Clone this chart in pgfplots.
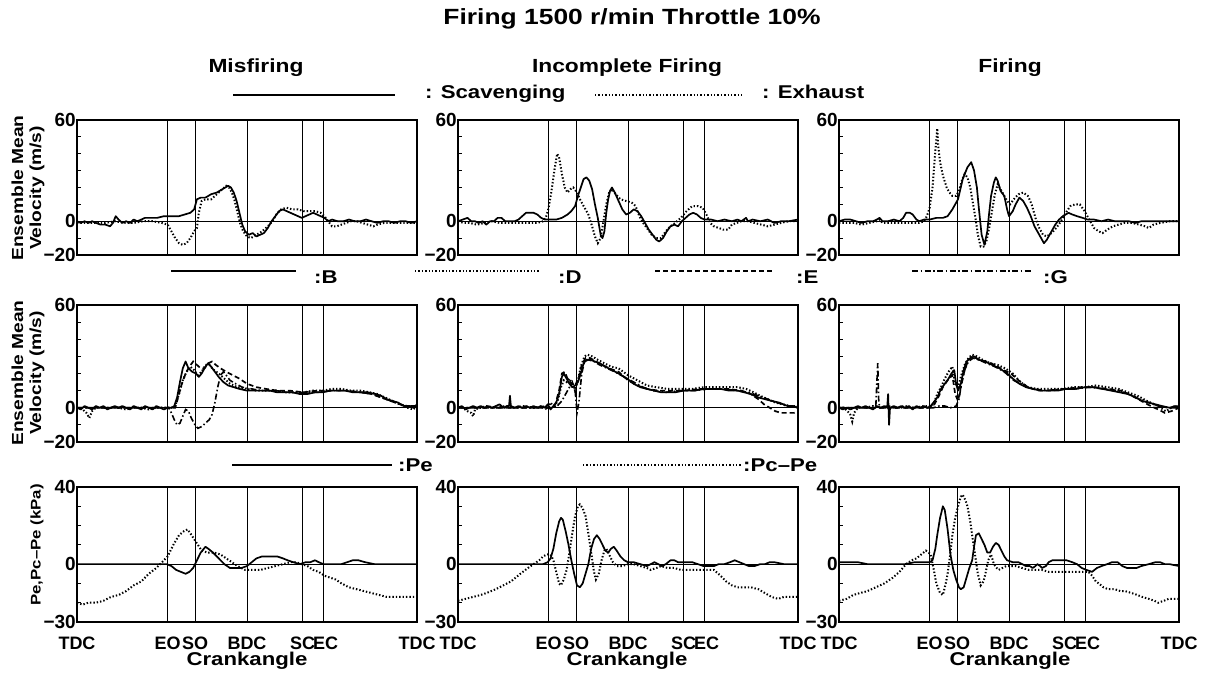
\documentclass[border=0pt]{standalone}
\usepackage{pgfplots}
\pgfplotsset{compat=1.18}
\usepackage{fontspec}
\setmainfont{Liberation Sans}
\newfontfamily\wide{Liberation Sans}[FakeStretch=1.2]
\newcommand{\wf}[1]{\wide\bfseries\fontsize{#1}{#1}\selectfont}

\tikzset{
  sol/.style={black, line width=1.7pt, line join=round},
  dot/.style={black, line width=2pt, dash pattern=on 1.4pt off 2pt},
  dsh/.style={black, line width=1.7pt, dash pattern=on 5pt off 3pt},
  dd/.style={black, line width=1.6pt, dash pattern=on 6pt off 2.5pt on 1.5pt off 2.5pt},
}
\pgfplotsset{
  panel/.style={
    scale only axis, width=340pt, height=135pt,
    xmin=0, xmax=360,
    xtick={0,96,125,180,239,261,360},
    xticklabels={},
    xmajorgrids, grid style={black, line width=0.9pt},
    xtick style={draw=none},
    ytick pos=left, tick align=inside,
    ytick style={black, line width=0.8pt},
    major tick length=4pt, minor tick length=4pt,
    axis line style={black, line width=1.3pt},
    yticklabel style={font=\fontsize{19}{19}\selectfont\bfseries, inner sep=1pt},
  },
  vel/.style={panel, ymin=-20, ymax=60, ytick={-20,0,60},
    yticklabels={−20,0,60}, minor ytick={-10,10,20,30,40,50}},
  prs/.style={panel, ymin=-30, ymax=40, ytick={-30,0,40},
    yticklabels={−30,0,40}, minor ytick={-20,-10,10,20,30},
    xticklabels={TDC,EO,SO\hspace{4pt},BDC,SC\hspace{6pt},\hspace{4pt}EC,TDC},
    xticklabel style={font=\fontsize{18}{18}\selectfont\bfseries, anchor=base, yshift=-28pt}},
}
\newcommand{\zeroline}{\draw[black, line width=0.7pt] (axis cs:0,0) -- (axis cs:360,0);}

\begin{document}
\begin{tikzpicture}
\useasboundingbox (0,0) rectangle (1209pt,679pt);

% titles
\node[anchor=base] at (632pt,654pt) {\wf{22}Firing 1500 r/min Throttle 10\%};
\node[anchor=base] at (256pt,606pt) {\wf{19}Misfiring};
\node[anchor=base] at (627pt,606pt) {\wf{19}Incomplete Firing};
\node[anchor=base] at (1010pt,606pt) {\wf{19}Firing};

% legend rows
\begin{scope}[every node/.style={anchor=base west, inner sep=0pt, font=\wf{18.5}}]
\draw[sol] (233pt,584pt) -- (395pt,584pt);
\node at (425pt,580pt) {: Scavenging};
\draw[dot] (595pt,584pt) -- (742pt,584pt);
\node at (762pt,580pt) {: Exhaust};

\draw[sol] (171pt,408pt) -- (296pt,408pt);
\node at (314pt,395pt) {:B};
\draw[dot] (415pt,408pt) -- (540pt,408pt);
\node at (558pt,395pt) {:D};
\draw[dsh] (655pt,408pt) -- (772pt,408pt);
\node at (796pt,395pt) {:E};
\draw[dd] (912pt,408pt) -- (1031pt,408pt);
\node at (1043pt,395pt) {:G};

\draw[sol] (232pt,214pt) -- (392pt,214pt);
\node at (398pt,207pt) {:Pe};
\draw[dot] (583pt,214pt) -- (741pt,214pt);
\node at (743pt,207pt) {:Pc–Pe};
\end{scope}

% y labels
\node[rotate=90, align=center, font=\wide\bfseries\fontsize{16}{18}\selectfont] at (28pt,491pt) {Ensemble Mean\\Velocity (m/s)};
\node[rotate=90, align=center, font=\wide\bfseries\fontsize{16}{18}\selectfont] at (28pt,306pt) {Ensemble Mean\\Velocity (m/s)};
\node[rotate=90, font=\wf{14}] at (37pt,134pt) {Pe,Pc–Pe (kPa)};

% x labels
\foreach \cx in {247,627,1010}
  \node[anchor=base, font=\wf{18.5}] at (\cx pt,13pt) {Crankangle};

% ---------- row 1 ----------
\begin{axis}[vel, at={(77pt,424pt)}, anchor=south west]
\zeroline
\addplot[sol] coordinates {(0,0) (4,-1) (8,0) (12,-1) (16,0) (20,-1) (25,-2) (30,-2) (35,-3) (38,-1) (41,3) (44,1) (48,-1) (52,0) (56,-1) (60,1) (64,0) (68,1) (72,2) (78,2) (85,2) (92,3) (100,3) (108,3) (114,4) (120,5) (124,7) (127,13) (131,14) (136,14) (142,16) (148,17) (154,19) (160,21) (163,20) (166,17) (169,12) (172,5) (175,-2) (178,-6) (182,-8) (186,-7) (190,-9) (194,-8) (198,-7) (202,-4) (206,0) (210,3) (214,6) (218,7) (222,6) (226,5) (230,4) (234,3) (238,2) (242,3) (246,4) (250,5) (254,4) (258,3) (262,2) (266,0) (270,1) (276,0) (282,0) (288,1) (294,0) (300,0) (306,1) (312,0) (318,-1) (324,0) (330,0) (336,-1) (342,0) (348,0) (354,-1) (360,0)};
\addplot[dot] coordinates {(0,-1) (10,-1) (20,-1) (30,-1) (40,0) (50,-1) (60,-1) (70,0) (80,0) (90,-1) (96,-2) (100,-6) (104,-10) (108,-13) (112,-14) (116,-13) (120,-10) (124,-6) (127,-4) (129,5) (132,12) (136,13) (142,13) (148,16) (154,19) (158,21) (161,20) (164,17) (167,12) (170,5) (173,-2) (176,-6) (180,-9) (184,-10) (190,-8) (196,-6) (202,-3) (207,0) (211,4) (216,7) (222,8) (228,7) (234,7) (240,6) (246,6) (252,6) (258,5) (262,3) (266,0) (270,-3) (275,-3) (280,-2) (285,-1) (290,0) (296,0) (302,-1) (308,-2) (314,-3) (318,-2) (325,-1) (335,-1) (345,-1) (360,-1)};
\end{axis}

\begin{axis}[vel, at={(458pt,424pt)}, anchor=south west]
\zeroline
\addplot[sol] coordinates {(0,0) (5,1) (10,2) (14,0) (18,0) (22,-1) (26,0) (30,-2) (34,0) (38,0) (42,2) (46,2) (50,0) (55,0) (60,0) (64,1) (68,3) (72,5) (76,5) (80,5) (84,4) (88,2) (92,1) (98,1) (104,1) (110,2) (116,4) (120,6) (124,9) (127,15) (130,20) (133,25) (136,26) (139,24) (142,19) (145,10) (148,2) (151,-8) (153,-10) (155,-6) (157,5) (159,13) (161,18) (163,20) (166,17) (170,12) (174,7) (178,4) (182,5) (186,7) (190,6) (194,3) (198,-1) (202,-5) (206,-8) (210,-11) (213,-12) (217,-10) (221,-6) (225,-3) (229,-2) (233,-3) (237,0) (241,2) (245,4) (249,5) (253,4) (257,2) (261,1) (268,1) (275,0) (282,1) (290,0) (296,1) (300,0) (305,2) (307,0) (312,1) (320,0) (328,1) (335,-1) (342,0) (350,0) (360,1)};
\addplot[dot] coordinates {(0,0) (6,-1) (12,-1) (20,-2) (28,-1) (36,0) (44,-1) (52,-1) (60,-1) (68,-1) (76,-1) (84,-1) (90,0) (93,2) (96,8) (99,18) (102,30) (105,40) (107,38) (110,28) (113,20) (116,17) (119,19) (122,20) (126,17) (130,12) (134,8) (138,4) (142,-3) (145,-9) (148,-13) (151,-10) (154,0) (157,10) (160,17) (163,19) (167,16) (172,13) (178,12) (184,11) (188,9) (192,3) (196,-1) (200,-4) (205,-8) (210,-10) (215,-10) (220,-6) (225,-3) (230,-1) (236,2) (242,6) (248,9) (254,9) (259,8) (263,4) (267,-1) (271,-3) (276,-4) (281,-5) (286,-5) (290,-2) (295,-1) (300,0) (307,0) (314,-1) (321,-2) (328,-3) (335,-2) (342,-1) (350,0) (360,0)};
\end{axis}

\begin{axis}[vel, at={(839pt,424pt)}, anchor=south west]
\zeroline
\addplot[sol] coordinates {(0,0) (6,1) (12,1) (18,0) (24,-1) (30,0) (36,0) (40,1) (43,2) (46,0) (52,0) (58,1) (64,0) (68,2) (71,5) (75,5) (78,4) (82,1) (85,0) (90,1) (96,1) (103,2) (110,2) (115,3) (120,7) (126,13) (131,25) (136,32) (140,35) (143,30) (146,20) (148,8) (151,-8) (154,-14) (157,-6) (159,5) (161,15) (164,23) (166,26) (168,24) (171,18) (175,15) (178,7) (180,3) (184,6) (187,10) (191,14) (195,12) (199,8) (203,3) (207,-3) (212,-8) (217,-13) (220,-11) (224,-7) (229,-2) (233,1) (237,3) (243,5) (247,4) (252,3) (258,2) (263,1) (270,1) (278,0) (285,1) (292,0) (300,0) (307,0) (314,-1) (320,0) (328,0) (335,0) (342,0) (350,0) (360,0)};
\addplot[dot] coordinates {(0,-1) (8,-1) (16,-1) (24,-2) (32,-1) (40,0) (43,1) (46,-1) (55,-1) (65,-1) (75,-1) (85,-1) (90,0) (93,3) (96,8) (99,20) (101,35) (103,48) (104,55) (105,45) (107,35) (110,27) (114,20) (117,17) (120,15) (124,15) (127,18) (130,24) (133,28) (136,26) (139,20) (142,10) (145,0) (147,-8) (150,-15) (153,-15) (156,-12) (159,-4) (162,6) (165,16) (168,22) (171,19) (174,16) (178,12) (181,10) (185,13) (190,16) (195,17) (200,15) (204,10) (208,2) (212,-4) (216,-8) (220,-9) (225,-7) (230,-4) (235,0) (240,5) (245,9) (250,10) (255,10) (260,6) (265,1) (270,-4) (275,-6) (279,-7) (284,-5) (290,-3) (296,-2) (302,-1) (310,-1) (318,-2) (324,-3) (328,-4) (333,-2) (340,-1) (350,0) (360,0)};
\end{axis}

% ---------- row 2 ----------
\begin{axis}[vel, height=137pt, at={(77pt,237pt)}, anchor=south west]
\zeroline
\addplot[sol] coordinates {(0,0) (4,-1) (8,1) (12,0) (16,-1) (20,1) (24,0) (28,1) (32,-1) (36,0) (40,1) (44,0) (48,1) (52,0) (56,-1) (60,1) (64,0) (68,-1) (72,1) (76,0) (80,-1) (84,1) (88,0) (92,-1) (96,0) (100,0) (103,1) (106,6) (109,15) (112,23) (115,27) (118,23) (122,21) (126,20) (129,18) (132,20) (136,24) (139,26) (142,24) (146,21) (150,18) (155,15) (160,13) (166,12) (172,11) (180,10) (188,10) (196,10) (204,10) (212,9) (220,9) (228,9) (236,8) (244,8) (252,9) (260,9) (268,10) (276,10) (284,10) (292,9) (300,9) (308,9) (316,8) (322,7) (328,5) (334,4) (340,3) (346,1) (352,1) (356,0) (360,2)};
\addplot[dot] coordinates {(0,0) (6,-1) (10,-3) (13,-6) (16,-2) (20,0) (28,0) (36,0) (44,0) (52,-1) (60,0) (68,0) (76,-1) (84,0) (92,0) (100,0) (104,1) (108,8) (112,16) (116,21) (120,24) (124,22) (128,19) (132,21) (136,25) (140,25) (145,22) (150,20) (156,17) (162,14) (170,12) (180,11) (190,10) (200,10) (210,10) (220,9) (230,9) (240,9) (250,10) (260,10) (270,11) (280,11) (290,10) (300,10) (310,9) (318,8) (326,6) (334,4) (342,2) (350,0) (356,-1) (360,1)};
\addplot[dsh] coordinates {(0,0) (10,0) (20,0) (30,0) (40,0) (50,0) (60,0) (70,0) (80,0) (90,0) (100,0) (104,0) (107,6) (111,14) (115,20) (119,24) (123,27) (127,25) (131,23) (135,23) (139,26) (143,27) (147,25) (152,23) (158,21) (165,19) (172,17) (180,14) (190,12) (200,11) (212,10) (225,10) (240,9) (255,10) (270,10) (285,10) (300,9) (312,8) (322,6) (332,4) (342,2) (350,1) (360,1)};
\addplot[dd] coordinates {(0,0) (10,0) (20,0) (30,0) (40,0) (50,0) (60,0) (70,0) (80,0) (90,0) (97,0) (100,-3) (103,-7) (106,-10) (109,-9) (112,-5) (115,-1) (118,-2) (121,-6) (125,-10) (128,-12) (132,-11) (136,-9) (140,-7) (143,-4) (146,3) (149,12) (152,19) (155,21) (158,19) (162,16) (168,14) (175,12) (185,11) (195,10) (210,10) (225,9) (240,9) (255,9) (270,10) (285,10) (300,9) (312,8) (322,6) (332,4) (342,2) (350,1) (360,1)};
\end{axis}

\begin{axis}[vel, height=137pt, at={(458pt,237pt)}, anchor=south west]
\zeroline
\addplot[sol] coordinates {(0,0) (4,1) (8,-1) (12,0) (16,1) (20,0) (24,1) (28,0) (32,1) (36,0) (40,1) (44,2) (48,0) (52,1) (54,1) (55,7) (56,1) (60,0) (64,1) (68,0) (72,1) (76,0) (80,1) (84,0) (88,1) (92,0) (95,2) (98,-1) (101,1) (104,3) (107,8) (110,18) (112,20) (115,17) (118,14) (121,12) (124,13) (127,15) (130,20) (133,26) (136,28) (140,28) (145,27) (150,26) (156,24) (163,22) (170,20) (179,17) (186,14) (193,12) (200,11) (208,10) (215,9) (222,9) (230,9) (239,10) (250,10) (261,11) (270,11) (278,11) (287,10) (296,10) (303,9) (310,8) (318,6) (325,5) (332,4) (340,3) (349,1) (355,1) (360,0)};
\addplot[dot] coordinates {(0,0) (5,0) (10,-2) (14,-3) (16,-5) (18,-1) (24,0) (30,1) (40,0) (50,1) (60,0) (70,1) (80,0) (90,1) (94,-1) (98,3) (102,0) (106,5) (109,12) (112,16) (115,15) (118,17) (121,14) (124,10) (127,16) (130,24) (134,30) (137,31) (142,30) (148,28) (155,26) (162,24) (170,23) (180,19) (190,16) (200,13) (210,12) (222,11) (235,11) (248,11) (260,12) (272,12) (285,12) (296,12) (305,11) (313,9) (320,7) (328,5) (336,3) (344,2) (352,1) (360,1)};
\addplot[dsh] coordinates {(0,0) (10,0) (20,0) (30,0) (40,0) (50,0) (60,0) (70,0) (80,0) (90,0) (98,0) (103,2) (107,10) (110,20) (113,21) (116,17) (120,14) (124,13) (128,18) (131,25) (135,29) (140,29) (146,27) (153,25) (160,23) (170,21) (180,16) (190,13) (200,11) (212,10) (225,10) (240,10) (255,11) (270,11) (285,11) (300,10) (310,8) (318,5) (324,2) (330,0) (336,-2) (342,-3) (350,-3) (356,-3) (360,-2)};
\addplot[dd] coordinates {(0,0) (10,0) (20,0) (30,0) (40,0) (50,0) (60,0) (70,0) (80,0) (90,0) (100,0) (105,1) (110,4) (114,8) (118,12) (121,15) (124,10) (126,-3) (128,3) (131,20) (134,27) (138,28) (144,27) (150,25) (158,23) (166,21) (176,18) (186,15) (196,12) (206,10) (220,9) (235,10) (250,10) (265,11) (280,11) (295,10) (308,9) (318,7) (328,5) (338,3) (348,1) (360,0)};
\end{axis}

\begin{axis}[vel, height=137pt, at={(839pt,237pt)}, anchor=south west]
\zeroline
\addplot[sol] coordinates {(0,0) (4,-1) (8,0) (12,-1) (16,0) (20,1) (24,0) (28,1) (32,0) (36,-1) (40,1) (44,0) (48,1) (51,0) (52,8) (53,-10) (54,0) (58,1) (62,0) (66,1) (70,0) (74,1) (78,-1) (82,1) (86,0) (90,1) (94,0) (97,1) (100,3) (104,6) (108,11) (112,14) (116,17) (119,20) (122,22) (124,14) (126,10) (129,14) (132,22) (135,27) (139,29) (143,30) (148,28) (155,27) (162,25) (170,23) (178,20) (184,17) (191,14) (198,12) (205,11) (214,10) (223,10) (232,10) (240,11) (250,11) (261,12) (270,12) (279,11) (288,10) (297,9) (306,8) (314,6) (321,4) (328,3) (335,2) (342,1) (350,0) (356,1) (360,0)};
\addplot[dot] coordinates {(0,0) (5,0) (9,-2) (12,-4) (14,-8) (16,-3) (20,0) (28,0) (36,1) (44,0) (52,1) (60,0) (70,1) (80,0) (90,1) (96,1) (100,2) (104,8) (108,12) (112,17) (116,21) (120,24) (123,14) (126,12) (129,18) (133,25) (137,29) (141,31) (146,30) (152,28) (160,26) (168,25) (176,23) (184,20) (192,15) (200,12) (210,11) (222,11) (235,11) (248,12) (260,12) (272,13) (284,12) (296,11) (306,9) (316,7) (326,4) (334,2) (340,0) (346,-2) (352,0) (356,1) (360,1)};
\addplot[dsh] coordinates {(0,0) (10,0) (20,0) (30,0) (40,0) (50,0) (60,0) (70,0) (80,0) (90,0) (96,0) (100,1) (105,6) (110,12) (115,16) (120,19) (123,8) (126,4) (129,12) (133,22) (137,28) (142,30) (148,28) (156,27) (165,25) (174,22) (182,20) (190,16) (200,12) (212,10) (225,10) (240,11) (255,12) (270,12) (285,11) (298,10) (310,7) (320,4) (330,1) (338,-1) (345,-3) (352,-2) (360,0)};
\addplot[dd] coordinates {(0,0) (10,0) (20,0) (30,0) (36,0) (39,1) (40,14) (41,26) (42,5) (43,0) (50,0) (60,0) (70,0) (80,0) (90,0) (100,0) (106,1) (112,1) (118,0) (124,1) (127,5) (130,15) (133,22) (137,27) (142,29) (148,28) (156,26) (165,24) (175,21) (185,16) (195,13) (205,11) (220,10) (235,11) (250,11) (265,12) (280,11) (295,10) (308,8) (318,5) (328,3) (338,1) (348,0) (360,0)};
\end{axis}

% ---------- row 3 ----------
\begin{axis}[prs, at={(77pt,57pt)}, anchor=south west]
\zeroline
\addplot[sol] coordinates {(0,0) (20,0) (40,0) (60,0) (80,0) (95,0) (100,-1) (105,-3) (110,-4) (115,-5) (119,-4) (123,-2) (127,2) (131,6) (136,9) (139,8) (144,6) (150,3) (156,0) (162,-2) (168,-2) (174,-2) (180,-1) (185,1) (190,3) (196,4) (204,4) (212,4) (218,3) (223,2) (229,1) (236,0) (242,1) (247,1) (252,2) (256,1) (261,0) (272,0) (280,0) (286,1) (292,2) (298,2) (305,1) (315,0) (325,0) (340,0) (360,0)};
\addplot[dot] coordinates {(0,-20) (6,-21) (12,-20) (20,-20) (28,-19) (36,-17) (44,-16) (52,-14) (60,-11) (68,-9) (76,-5) (84,-2) (90,1) (96,4) (102,10) (108,15) (113,17) (117,18) (120,16) (124,13) (128,10) (132,7) (138,6) (145,6) (152,5) (158,3) (164,1) (170,-1) (178,-3) (186,-3) (194,-3) (202,-2) (210,-1) (218,0) (226,1) (232,1) (238,0) (244,-1) (250,-3) (256,-4) (262,-6) (268,-7) (274,-8) (280,-10) (288,-12) (296,-13) (304,-14) (312,-15) (320,-16) (328,-17) (336,-17) (344,-17) (352,-17) (360,-17)};
\end{axis}

\begin{axis}[prs, at={(458pt,57pt)}, anchor=south west]
\zeroline
\addplot[sol] coordinates {(0,0) (20,0) (40,0) (60,0) (80,0) (90,0) (95,1) (98,3) (101,8) (104,16) (107,22) (109,24) (111,23) (114,17) (117,10) (120,2) (123,-5) (126,-11) (129,-12) (132,-10) (135,-5) (138,0) (141,8) (144,13) (147,15) (150,13) (153,10) (156,7) (159,6) (162,8) (165,9) (168,7) (172,4) (176,2) (180,1) (186,1) (193,0) (200,-1) (204,0) (208,1) (212,0) (216,-1) (220,0) (225,2) (229,2) (233,1) (238,1) (243,1) (248,1) (254,0) (260,-1) (266,-1) (271,-1) (276,0) (282,0) (288,1) (293,2) (298,1) (303,0) (308,-1) (314,-1) (320,0) (325,0) (330,1) (335,1) (345,0) (360,0)};
\addplot[dot] coordinates {(0,-19) (8,-18) (16,-17) (24,-16) (30,-15) (40,-13) (48,-11) (56,-9) (66,-5) (74,-2) (80,0) (86,2) (90,4) (94,5) (98,5) (101,2) (104,-4) (107,-10) (109,-11) (112,-8) (115,-3) (118,6) (121,16) (124,25) (127,30) (129,31) (132,29) (135,25) (138,16) (141,6) (144,-4) (146,-8) (149,-5) (152,2) (155,7) (157,8) (160,5) (164,1) (168,-1) (174,-1) (180,0) (186,0) (193,-1) (200,-2) (204,-3) (210,-2) (215,-1) (222,-2) (229,-2) (236,-3) (243,-3) (250,-3) (257,-3) (264,-3) (271,-3) (278,-6) (284,-9) (290,-11) (296,-12) (303,-12) (310,-12) (318,-13) (325,-15) (332,-17) (339,-18) (345,-17) (352,-17) (360,-17)};
\end{axis}

\begin{axis}[prs, at={(839pt,57pt)}, anchor=south west]
\zeroline
\addplot[sol] coordinates {(0,1) (10,1) (20,1) (30,0) (40,0) (50,0) (60,0) (70,0) (80,1) (90,1) (96,1) (99,2) (102,8) (104,15) (107,24) (110,30) (112,28) (115,18) (118,5) (121,-3) (124,-8) (127,-12) (129,-13) (132,-12) (135,-7) (138,-2) (141,2) (143,9) (145,15) (148,16) (151,13) (154,10) (157,6) (160,6) (163,9) (166,11) (169,10) (172,7) (175,4) (178,2) (184,1) (190,1) (194,0) (198,-1) (202,-1) (205,-2) (208,-1) (210,0) (213,-1) (215,-2) (219,-1) (222,1) (226,2) (229,2) (233,2) (236,2) (241,2) (247,1) (252,0) (257,-2) (262,-3) (268,-4) (273,-2) (278,-1) (284,0) (289,1) (295,1) (300,-1) (305,-2) (310,-2) (315,-2) (320,-1) (328,0) (335,1) (340,1) (345,0) (350,0) (360,-1)};
\addplot[dot] coordinates {(0,-19) (8,-18) (15,-16) (22,-15) (30,-14) (39,-12) (48,-10) (57,-7) (64,-4) (71,0) (77,2) (82,3) (87,5) (92,7) (95,6) (97,5) (100,-2) (103,-10) (107,-15) (110,-16) (113,-10) (115,-5) (118,6) (120,15) (123,24) (126,30) (129,35) (131,36) (134,33) (136,30) (139,22) (141,15) (144,5) (147,-5) (150,-11) (153,-9) (155,-5) (158,2) (161,5) (164,0) (167,-2) (169,-3) (173,-2) (177,-1) (182,-1) (187,-1) (194,-2) (201,-3) (208,-3) (215,-3) (222,-4) (229,-4) (236,-4) (243,-4) (250,-4) (257,-4) (264,-4) (268,-6) (272,-9) (275,-10) (280,-12) (285,-13) (292,-13) (298,-14) (303,-14) (310,-15) (316,-16) (321,-17) (328,-18) (334,-19) (338,-20) (344,-19) (349,-18) (355,-18) (360,-18)};
\end{axis}
\end{tikzpicture}
\end{document}
